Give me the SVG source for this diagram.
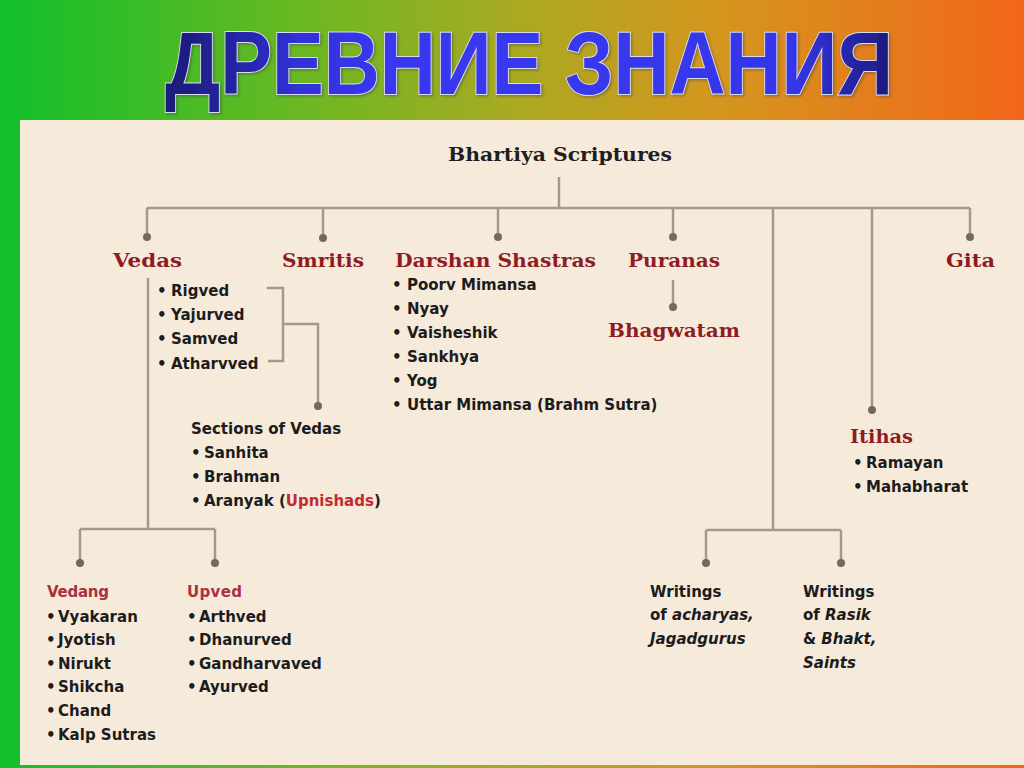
<svg xmlns="http://www.w3.org/2000/svg" width="1024" height="768" viewBox="0 0 1024 768">
<defs>
<linearGradient id="bg" x1="0" y1="0" x2="1" y2="0">
<stop offset="0" stop-color="#10c02c"/>
<stop offset="0.3" stop-color="#6cb822"/>
<stop offset="0.5" stop-color="#a8aa22"/>
<stop offset="0.7" stop-color="#d4961e"/>
<stop offset="1" stop-color="#f2661a"/>
</linearGradient>
<linearGradient id="tg" x1="0" y1="0" x2="1" y2="0">
<stop offset="0" stop-color="#1c1c78"/>
<stop offset="0.08" stop-color="#22229a"/>
<stop offset="0.18" stop-color="#3030d8"/>
<stop offset="0.3" stop-color="#3838f0"/>
<stop offset="0.86" stop-color="#3636ec"/>
<stop offset="0.93" stop-color="#2828b0"/>
<stop offset="1" stop-color="#1c1c78"/>
</linearGradient>
<filter id="sh" x="-5%" y="-20%" width="110%" height="150%">
<feDropShadow dx="1.5" dy="1.5" stdDeviation="1" flood-color="#404040" flood-opacity="0.45"/>
</filter>
</defs>
<style>
.ln{fill:none;stroke:#a39a8a;stroke-width:2.5}
.dot{fill:#716b5c}
.hd{font-family:"DejaVu Serif","Liberation Serif",serif;font-weight:bold;font-size:18.5px;fill:#8e1c22}
.root{font-family:"DejaVu Serif","Liberation Serif",serif;font-weight:bold;font-size:18px;fill:#1e1e1e}
.it{font-family:"DejaVu Sans","Liberation Sans",sans-serif;font-weight:bold;font-size:15px;fill:#1c1c1c}
.sub{font-family:"DejaVu Sans","Liberation Sans",sans-serif;font-weight:bold;font-size:15px;fill:#a8323f}
.red{fill:#c22a30}
.em{font-style:italic}
.title{font-family:"Liberation Sans",Arial,sans-serif;font-weight:bold;font-size:89px;fill:url(#tg);stroke:#dcdcf0;stroke-width:2;paint-order:stroke}
</style>
<rect x="0" y="0" width="1024" height="768" fill="url(#bg)"/>
<rect x="20" y="120" width="1004" height="645" fill="#f6eadb"/>
<rect x="20" y="120" width="1004" height="2" fill="#fbe9d6"/>
<g id="title" filter="url(#sh)">
<text class="title" x="165" y="94" textLength="728" lengthAdjust="spacingAndGlyphs">ДРЕВНИЕ ЗНАНИЯ</text>
</g>
<g id="connectors">
<path class="ln" d="M559 177V208M147 208H970M147 208V237M323 208V238M498 208V237M673 208V237M970 208V237M773 208V530M872 208V410M673 280V307"/>
<path class="ln" d="M148 278V529M80 529H215M80 529V563M215 529V563"/>
<path class="ln" d="M267 288H283V361H268M283 324H318V406"/>
<path class="ln" d="M706 530H841M706 530V563M841 530V563"/>
<circle class="dot" cx="147" cy="237" r="4"/>
<circle class="dot" cx="323" cy="238" r="4"/>
<circle class="dot" cx="498" cy="237" r="4"/>
<circle class="dot" cx="673" cy="237" r="4"/>
<circle class="dot" cx="970" cy="237" r="4"/>
<circle class="dot" cx="872" cy="410" r="4"/>
<circle class="dot" cx="673" cy="307" r="4"/>
<circle class="dot" cx="318" cy="406" r="4"/>
<circle class="dot" cx="80" cy="563" r="4"/>
<circle class="dot" cx="215" cy="563" r="4"/>
<circle class="dot" cx="706" cy="563" r="4"/>
<circle class="dot" cx="841" cy="563" r="4"/>
</g>
<g id="root"><text class="root" x="448" y="161" textLength="224" lengthAdjust="spacingAndGlyphs">Bhartiya Scriptures</text></g>
<g id="vedas">
<text class="hd" x="113" y="267" textLength="69" lengthAdjust="spacingAndGlyphs">Vedas</text>
<text class="it"><tspan x="157" y="296">•</tspan><tspan x="171">Rigved</tspan><tspan x="157" y="320">•</tspan><tspan x="171">Yajurved</tspan><tspan x="157" y="344">•</tspan><tspan x="171">Samved</tspan><tspan x="157" y="369">•</tspan><tspan x="171">Atharvved</tspan></text>
</g>
<g id="sections">
<text class="it" x="191" y="434">Sections of Vedas</text>
<text class="it"><tspan x="191" y="458">•</tspan><tspan x="204">Sanhita</tspan><tspan x="191" y="482">•</tspan><tspan x="204">Brahman</tspan><tspan x="191" y="506">•</tspan><tspan x="204">Aranyak (</tspan><tspan class="red">Upnishads</tspan><tspan>)</tspan></text>
</g>
<g id="smritis"><text class="hd" x="282" y="267" textLength="82" lengthAdjust="spacingAndGlyphs">Smritis</text></g>
<g id="darshan">
<text class="hd" x="395" y="267" textLength="201" lengthAdjust="spacingAndGlyphs">Darshan Shastras</text>
<text class="it"><tspan x="392" y="290">•</tspan><tspan x="407">Poorv Mimansa</tspan><tspan x="392" y="314">•</tspan><tspan x="407">Nyay</tspan><tspan x="392" y="338">•</tspan><tspan x="407">Vaisheshik</tspan><tspan x="392" y="362">•</tspan><tspan x="407">Sankhya</tspan><tspan x="392" y="386">•</tspan><tspan x="407">Yog</tspan><tspan x="392" y="410">•</tspan><tspan x="407">Uttar Mimansa (Brahm Sutra)</tspan></text>
</g>
<g id="puranas"><text class="hd" x="628" y="267" textLength="92" lengthAdjust="spacingAndGlyphs">Puranas</text></g>
<g id="bhagwatam"><text class="hd" x="608" y="337" textLength="132" lengthAdjust="spacingAndGlyphs">Bhagwatam</text></g>
<g id="gita"><text class="hd" x="946" y="267" textLength="49" lengthAdjust="spacingAndGlyphs">Gita</text></g>
<g id="itihas">
<text class="hd" x="850" y="443" textLength="63" lengthAdjust="spacingAndGlyphs">Itihas</text>
<text class="it"><tspan x="853" y="468">•</tspan><tspan x="866">Ramayan</tspan><tspan x="853" y="492">•</tspan><tspan x="866">Mahabharat</tspan></text>
</g>
<g id="vedang">
<text class="sub" x="47" y="597" textLength="62">Vedang</text>
<text class="it"><tspan x="46" y="622">•</tspan><tspan x="58">Vyakaran</tspan><tspan x="46" y="645">•</tspan><tspan x="58">Jyotish</tspan><tspan x="46" y="669">•</tspan><tspan x="58">Nirukt</tspan><tspan x="46" y="692">•</tspan><tspan x="58">Shikcha</tspan><tspan x="46" y="716">•</tspan><tspan x="58">Chand</tspan><tspan x="46" y="740">•</tspan><tspan x="58">Kalp Sutras</tspan></text>
</g>
<g id="upved">
<text class="sub" x="187" y="597" textLength="55">Upved</text>
<text class="it"><tspan x="187" y="622">•</tspan><tspan x="199">Arthved</tspan><tspan x="187" y="645">•</tspan><tspan x="199">Dhanurved</tspan><tspan x="187" y="669">•</tspan><tspan x="199">Gandharvaved</tspan><tspan x="187" y="692">•</tspan><tspan x="199">Ayurved</tspan></text>
</g>
<g id="acharyas">
<text class="it"><tspan x="650" y="597">Writings</tspan><tspan x="650" y="620">of </tspan><tspan class="em">acharyas,</tspan><tspan x="650" y="644" class="em">Jagadgurus</tspan></text>
</g>
<g id="rasik">
<text class="it"><tspan x="803" y="597">Writings</tspan><tspan x="803" y="620">of </tspan><tspan class="em">Rasik</tspan><tspan x="803" y="644">&amp; </tspan><tspan class="em">Bhakt,</tspan><tspan x="803" y="668" class="em">Saints</tspan></text>
</g>
</svg>
